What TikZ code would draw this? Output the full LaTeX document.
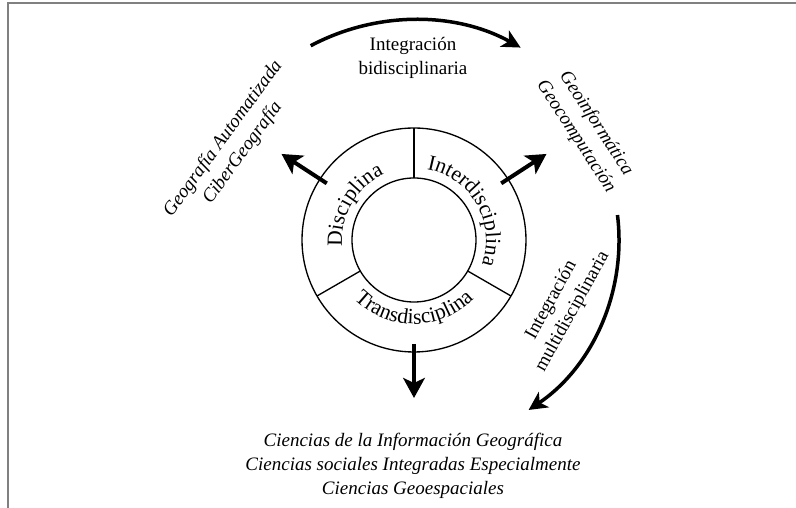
\documentclass[tikz,border=0pt]{standalone}
\usepackage{fontspec}
\setmainfont{Liberation Serif}
\usetikzlibrary{arrows.meta,decorations.text}
\newcommand\labelfont{\fontsize{11.4}{14.4}\selectfont}
\newcommand\ringfont{\fontsize{13}{15}\selectfont}

\begin{document}
\begin{tikzpicture}[x=0.6pt,y=0.6pt]
%one unit = one pixel of the original, ring centre at (0,0)
\tikzstyle{lbl}=[font=\labelfont, align=center, inner sep=0pt]
\tikzstyle{field}=[lbl, font=\labelfont\itshape]
\tikzstyle{ring}=[line width=0.8pt]
\tikzstyle{spoke}=[line width=2.4pt, -{Stealth[length=12pt, width=13pt, inset=3pt]}]
\tikzstyle{flow}=[line width=2.1pt, -{Stealth[length=11pt, width=11pt, inset=3pt]}]
\useasboundingbox (-414,240) rectangle (382,-268);
\draw[gray, line width=1pt] (382,237) -- (-406,237) -- (-406,-268);
\coordinate (O) at (0,0);
\draw[ring] (O) circle (112);
\draw[ring] (O) circle (62);
\foreach \a in {90,210,330} \draw[ring] (\a:62) -- (\a:112);
\path[decorate, decoration={text along path, text align=center, text={|\ringfont|Disciplina}}]
  (210:72) arc[start angle=210, end angle=90, radius=72];
\path[decorate, decoration={text along path, text align=center, text={|\ringfont|Interdisciplina}}]
  (90:72) arc[start angle=90, end angle=-30, radius=72];
\path[decorate, decoration={text along path, text align=center, text={|\ringfont|Transdisciplina}}]
  (210:84) arc[start angle=210, end angle=330, radius=84];
\node[lbl](A) at (-1,182) {Integración\\bidisciplinaria};
\node[field, rotate=54](B) at (-181,94) {Geografía Automatizada\\CiberGeografía};
\node[field, rotate=-57](C) at (172,110) {Geoinformática\\Geocomputación};
\node[lbl, rotate=61](D) at (148,-66) {Integración\\multidisciplinaria};
\node[field](E) at (-1,-226) {Ciencias de la Información Geográfica\\Ciencias sociales Integradas Especialmente\\Ciencias Geoespaciales};
\foreach \a/\n in {147/1,33/2,270/3} {
  \coordinate (p\n) at (\a:104);
  \coordinate (q\n) at (\a:158);
  \draw[spoke] (p\n) -- (q\n);
}
\coordinate (t1) at (118:220);
\coordinate (t2) at (7:205);
\draw[flow] (t1) arc[start angle=118, end angle=61, radius=220];
\draw[flow] (t2) arc[start angle=7, end angle=-56, radius=205];
\end{tikzpicture}
\end{document}
